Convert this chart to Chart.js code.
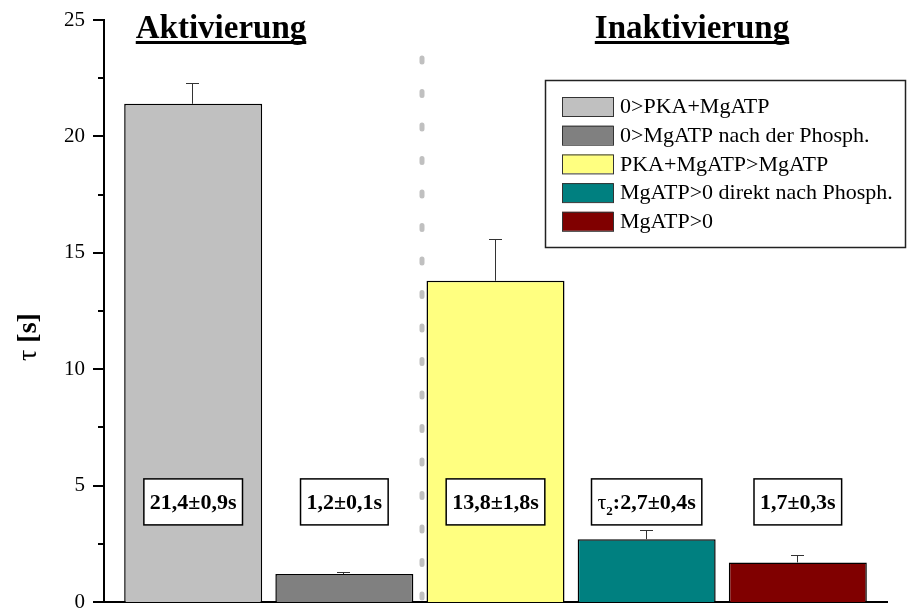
<!DOCTYPE html>
<html lang="de">
<head>
<meta charset="UTF-8">
<title>Aktivierung / Inaktivierung</title>
<script src="https://cdn.jsdelivr.net/npm/chart.js"></script>
<style>
  html, body { margin: 0; padding: 0; background: #fff; }
  .chart { width: 921px; height: 610px; }
</style>
</head>
<body>
<div class="chart"><canvas id="tauChart"></canvas></div>

<script>
  // Messwerte
  const bedingungen = [
    '0>PKA+MgATP',
    '0>MgATP nach der Phosph.',
    'PKA+MgATP>MgATP',
    'MgATP>0 direkt nach Phosph.',
    'MgATP>0'
  ];
  const tau = [21.4, 1.2, 13.8, 2.7, 1.7];
  const fehler = [0.9, 0.1, 1.8, 0.4, 0.3];
  const beschriftung = ['21,4±0,9s', '1,2±0,1s', '13,8±1,8s', 'τ2:2,7±0,4s', '1,7±0,3s'];
  const yTicks = [0, 5, 10, 15, 20, 25];

  const farben = ['#c0c0c0', '#808080', '#ffff80', '#008080', '#800000'];
  const serif = "'Liberation Serif', 'Times New Roman', serif";

  Chart.defaults.font.family = serif;
  Chart.defaults.color = '#000';

  // Kasten mit Rahmen um einen Text zeichnen
  function kasten(ctx, cx, cy, w) {
    const bw = w + 12;
    ctx.fillStyle = '#fff';
    ctx.fillRect(cx - bw / 2, cy - 23, bw, 46);
    ctx.strokeStyle = '#000';
    ctx.lineWidth = 1.5;
    ctx.strokeRect(cx - bw / 2, cy - 23, bw, 46);
    ctx.fillStyle = '#000';
  }

  const extras = {
    id: 'extras',
    beforeDatasetsDraw(chart) {
      const { ctx, scales: { x, y } } = chart;
      // gepunktete Trennlinie
      ctx.save();
      ctx.strokeStyle = '#c0c0c0';
      ctx.lineWidth = 5;
      ctx.lineCap = 'round';
      ctx.setLineDash([4, 29.5]);
      const xs = Math.round(x.getPixelForValue(1.5)) + 2;
      ctx.beginPath();
      ctx.moveTo(xs, 58);
      ctx.lineTo(xs, y.getPixelForValue(0));
      ctx.stroke();
      ctx.restore();
    },
    afterDatasetsDraw(chart) {
      const { ctx, chartArea, scales: { x, y } } = chart;
      ctx.save();

      // Fehlerbalken (nur nach oben)
      ctx.strokeStyle = '#333';
      ctx.lineWidth = 1;
      tau.forEach((v, i) => {
        const px = Math.round(x.getPixelForValue(i)) - 0.5;
        const y0 = y.getPixelForValue(v);
        const y1 = Math.round(y.getPixelForValue(v + fehler[i])) + 0.5;
        ctx.beginPath();
        ctx.moveTo(px, y0);
        ctx.lineTo(px, y1);
        ctx.moveTo(px - 6.5, y1);
        ctx.lineTo(px + 6.5, y1);
        ctx.stroke();
      });

      // y-Achse: Haupt- und Nebenstriche
      ctx.strokeStyle = '#000';
      ctx.lineWidth = 2;
      for (let v = 0; v <= 25; v += 2.5) {
        const py = Math.round(y.getPixelForValue(v));
        const len = v % 5 === 0 ? 11 : 6;
        ctx.beginPath();
        ctx.moveTo(chartArea.left - len, py);
        ctx.lineTo(chartArea.left, py);
        ctx.stroke();
      }

      // Wertekästen
      const bold = '700 22px ' + serif;
      const yBox = y.getPixelForValue(4.3);
      ctx.textBaseline = 'alphabetic';
      beschriftung.forEach((t, i) => {
        const cx = x.getPixelForValue(i);
        if (t.startsWith('τ2')) {
          const rest = t.slice(2);
          ctx.font = '400 22px ' + serif;
          const wt = ctx.measureText('τ').width;
          ctx.font = '700 13px ' + serif;
          const ws = ctx.measureText('2').width;
          ctx.font = bold;
          const wr = ctx.measureText(rest).width;
          const w = wt + ws + wr;
          kasten(ctx, cx, yBox, w);
          ctx.textAlign = 'left';
          let sx = cx - w / 2;
          ctx.font = '400 22px ' + serif;
          ctx.fillText('τ', sx, yBox + 7);
          sx += wt;
          ctx.font = '700 13px ' + serif;
          ctx.fillText('2', sx, yBox + 13);
          sx += ws;
          ctx.font = bold;
          ctx.fillText(rest, sx, yBox + 7);
        } else {
          ctx.font = bold;
          kasten(ctx, cx, yBox, ctx.measureText(t).width);
          ctx.textAlign = 'center';
          ctx.fillText(t, cx, yBox + 7);
        }
      });

      // Überschriften, unterstrichen
      ctx.font = '700 33px ' + serif;
      ctx.fillStyle = '#000';
      ctx.textAlign = 'center';
      [['Aktivierung', 221], ['Inaktivierung', 692]].forEach(([t, cx]) => {
        ctx.fillText(t, cx, 38);
        const w = ctx.measureText(t).width;
        ctx.fillRect(cx - w / 2, 41, w, 3);
      });

      // y-Achsentitel
      ctx.translate(29, 337);
      ctx.rotate(-Math.PI / 2);
      ctx.textBaseline = 'middle';
      ctx.textAlign = 'left';
      ctx.font = '400 28px ' + serif;
      const wTau = ctx.measureText('τ ').width;
      ctx.font = '700 28px ' + serif;
      const wS = ctx.measureText('[s]').width;
      const tx = -(wTau + wS) / 2;
      ctx.font = '400 28px ' + serif;
      ctx.fillText('τ ', tx, 0);
      ctx.font = '700 28px ' + serif;
      ctx.fillText('[s]', tx + wTau, 0);
      ctx.restore();

      // Legende
      ctx.save();
      ctx.fillStyle = '#fff';
      ctx.fillRect(545, 80, 360, 167);
      ctx.strokeStyle = '#222';
      ctx.lineWidth = 1.5;
      ctx.strokeRect(545.5, 80.5, 360, 167);
      ctx.font = '400 22px ' + serif;
      ctx.textAlign = 'left';
      ctx.textBaseline = 'middle';
      bedingungen.forEach((name, i) => {
        const top = 97 + i * 28.7;
        ctx.fillStyle = farben[i];
        ctx.fillRect(562, top, 51, 19);
        ctx.strokeStyle = '#333';
        ctx.lineWidth = 1;
        ctx.strokeRect(562.5, top + 0.5, 51, 19);
        ctx.fillStyle = '#000';
        ctx.fillText(name, 620, top + 10.5);
      });
      ctx.restore();
    }
  };

  new Chart(document.getElementById('tauChart'), {
    type: 'bar',
    data: {
      datasets: [{
        label: 'τ',
        data: tau.map((v, i) => ({ x: i, y: v })),
        backgroundColor: farben,
        borderColor: '#000',
        borderWidth: 1.5,
        barPercentage: 0.913,
        categoryPercentage: 1
      }]
    },
    options: {
      responsive: true,
      maintainAspectRatio: false,
      animation: false,
      layout: { padding: { top: 20, right: 34, left: 0, bottom: 0 } },
      plugins: { legend: { display: false }, tooltip: { enabled: false } },
      scales: {
        x: {
          type: 'linear',
          min: -0.59,
          max: 4.59,
          offset: false,
          ticks: { display: false, stepSize: 1, includeBounds: false },
          grid: { display: false, drawTicks: false },
          border: { display: true, color: '#000', width: 2 },
          afterFit: (s) => {
            s.height = 8;
            s.paddingLeft = 0; s.paddingRight = 0;
            s.paddingTop = 0; s.paddingBottom = 0;
          }
        },
        y: {
          min: 0,
          max: 25,
          ticks: {
            stepSize: 2.5,
            padding: 19,
            font: { size: 21 },
            color: '#000',
            callback: (v) => (yTicks.includes(v) ? v : '')
          },
          grid: { display: false, drawTicks: false },
          border: { display: true, color: '#000', width: 2 },
          afterFit: (s) => {
            s.width = 104;
            s.paddingTop = 0; s.paddingBottom = 0;
            s.paddingLeft = 0; s.paddingRight = 0;
          }
        }
      }
    },
    plugins: [extras]
  });
</script>
</body>
</html>
